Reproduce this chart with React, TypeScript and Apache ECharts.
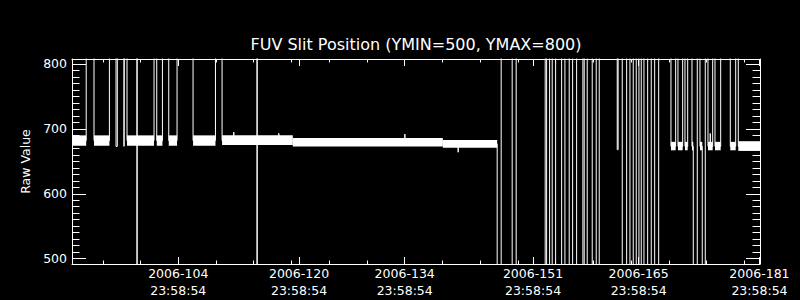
import React, { useEffect, useRef } from "react";
import * as echarts from "echarts";

// ---- data (x = day-of-year 2006, fractional; y = raw value) ----
const TITLE = "FUV Slit Position (YMIN=500, YMAX=800)";
const Y_NAME = "Raw Value";

// labelled time ticks: day of year at 23:58:54
const tickDays = [104, 120, 134, 151, 165, 181];
const tickTime = "23:58:54";
const tickFraction = 86334 / 86400;
const minorTickDays = [95, 100, 105, 110, 115, 120, 125, 130, 135, 140, 145, 150, 155, 160, 165, 170, 175, 180];
const yMajorTicks = [500, 600, 700, 800];

const X_MIN = 90.923;
const X_MAX = 182.071;
const Y_MIN = 491.75;
const Y_MAX = 807.7;

// trace as a step function: level held from each day until the next one
// (1023 = off the top of the scale, 0 = off the bottom)
const traceDay = [
  90.923, 92.805, 93.839, 95.88, 96.755, 96.927, 97.815, 97.868, 98.213, 99.538,
  99.541, 99.544, 101.792, 102.149, 102.905, 103.74, 104.84, 106.961, 109.929, 110.804,
  112.355, 112.362, 115.443, 115.446, 115.449, 118.319, 118.326, 135.019, 135.026, 142.084,
  142.091, 147.252, 147.782, 149.24, 149.77, 153.614, 153.8, 154.197, 154.542, 154.993,
  155.788, 156.225, 156.795, 157.246, 157.776, 158.611, 158.783, 159.181, 159.844, 160.374,
  160.771, 163.157, 163.276, 163.82, 164.403, 164.841, 165.278, 165.676, 166.034, 166.338,
  166.696, 167.187, 167.664, 168.115, 168.645, 170.275, 170.898, 171.203, 171.826, 172.131,
  172.489, 173.059, 173.231, 173.761, 174.119, 174.424, 174.821, 175.179, 175.484, 175.491,
  175.802, 176.107, 176.862, 178.135, 178.851, 179.195, 182.071,
];
const traceLevel = [
  682, 1023, 682, 1023, 673, 1023, 673, 1023, 682, 1023,
  0, 682, 1023, 682, 1023, 682, 1023, 682, 1023, 682,
  695, 682, 1023, 0, 682, 693, 682, 692, 680, 664,
  677, 0, 1023, 0, 1023, 0, 1023, 0, 1023, 0,
  1023, 0, 1023, 0, 1023, 0, 1023, 0, 1023, 0,
  1023, 668, 1023, 0, 1023, 0, 1023, 0, 1023, 0,
  1023, 0, 1023, 0, 1023, 673, 1023, 673, 1023, 673,
  1023, 673, 0, 1023, 673, 0, 1023, 673, 693, 673,
  1023, 673, 1023, 673, 1023, 673, 673,
];

// noise envelope of the sampled trace while it sits near its nominal value
const bandStart = [
  90.923, 93.839, 98.213, 102.149, 103.74, 106.961, 110.804, 120.175, 140.056,
  170.275, 171.203, 172.131, 173.059, 174.119, 175.179, 176.107, 178.135, 179.195,
];
const bandEnd = [
  92.805, 95.88, 101.792, 102.905, 104.84, 109.929, 120.175, 140.056, 147.252,
  170.898, 171.826, 172.489, 173.231, 174.424, 175.802, 176.862, 178.851, 182.071,
];
const bandLow = [674, 674, 674, 674, 674, 674, 675, 673, 671, 667, 667, 667, 667, 667, 667, 667, 667, 666];
const bandHigh = [690, 690, 690, 690, 690, 690, 690, 686, 683, 680, 680, 680, 680, 680, 680, 680, 680, 681];

const FONT = "DejaVu Sans";
const WHITE = "#ffffff";

export default function App() {
  const ref = useRef<HTMLDivElement>(null);

  useEffect(() => {
    if (!ref.current) return;
    const chart = echarts.init(ref.current, null, { renderer: "svg" });

    const majorX = tickDays.map((d) => d + tickFraction);
    const xLabels = tickDays.map((d) => `2006-${d}\n${tickTime}`);
    const minorY: number[] = [];
    for (let v = 500; v <= 800; v += 10) minorY.push(v);

    const line = { color: WHITE, width: 1 };
    const baseX = (position: "top" | "bottom", major: boolean, labels: boolean) => ({
      type: "value" as const,
      position,
      min: X_MIN,
      max: X_MAX,
      offset: 0,
      axisLine: { show: major, lineStyle: line },
      axisTick: {
        show: true,
        inside: true,
        length: major ? 7 : 3.5,
        customValues: major ? majorX : minorTickDays,
        lineStyle: line,
      },
      axisLabel: labels
        ? {
            show: true,
            customValues: majorX,
            formatter: (v: number) => {
              const i = majorX.findIndex((m) => Math.abs(m - v) < 1e-3);
              return i >= 0 ? xLabels[i] : "";
            },
            color: WHITE,
            fontFamily: FONT,
            fontSize: 12.5,
            lineHeight: 17,
            margin: 1,
          }
        : { show: false },
      splitLine: { show: false },
    });
    const baseY = (position: "left" | "right", major: boolean, labels: boolean) => ({
      type: "value" as const,
      position,
      min: Y_MIN,
      max: Y_MAX,
      offset: 0,
      name: labels ? Y_NAME : "",
      nameLocation: "middle" as const,
      nameGap: 40,
      nameTextStyle: { color: WHITE, fontFamily: FONT, fontSize: 12.5 },
      axisLine: { show: major, lineStyle: line },
      axisTick: {
        show: true,
        inside: true,
        length: major ? 14 : 7.5,
        customValues: major ? yMajorTicks : minorY,
        lineStyle: line,
      },
      axisLabel: labels
        ? {
            show: true,
            customValues: yMajorTicks,
            color: WHITE,
            fontFamily: FONT,
            fontSize: 12.5,
            margin: 5,
          }
        : { show: false },
      splitLine: { show: false },
    });

    chart.setOption({
      animation: false,
      backgroundColor: "#000000",
      title: {
        text: TITLE,
        left: 416,
        top: 36,
        textAlign: "center",
        padding: 0,
        textStyle: { color: WHITE, fontFamily: FONT, fontSize: 16, fontWeight: "normal" },
      },
      grid: { left: 72, right: 40, top: 59, bottom: 36, containLabel: false },
      xAxis: [
        baseX("bottom", true, true),
        baseX("bottom", false, false),
        baseX("top", true, false),
        baseX("top", false, false),
      ],
      yAxis: [
        baseY("left", true, true),
        baseY("left", false, false),
        baseY("right", true, false),
        baseY("right", false, false),
      ],
      series: [
        {
          type: "custom",
          xAxisIndex: 0,
          yAxisIndex: 0,
          clip: true,
          encode: { x: [0, 1], y: [2, 3] },
          data: bandStart.map((s, i) => [s, bandEnd[i], bandLow[i], bandHigh[i]]),
          renderItem: (_params: any, api: any) => {
            const p0 = api.coord([api.value(0), api.value(3)]);
            const p1 = api.coord([api.value(1), api.value(2)]);
            return {
              type: "rect",
              shape: {
                x: p0[0],
                y: p0[1],
                width: Math.max(1, p1[0] - p0[0]),
                height: p1[1] - p0[1],
              },
              style: { fill: WHITE },
            };
          },
        },
        {
          type: "line",
          xAxisIndex: 0,
          yAxisIndex: 0,
          step: "end",
          symbol: "none",
          clip: true,
          lineStyle: { color: WHITE, width: 1 },
          data: traceDay.map((d, i) => [d, traceLevel[i]]),
        },
      ],
    });

    return () => chart.dispose();
  }, []);

  return (
    <div
      ref={ref}
      style={{ position: "fixed", left: 0, top: 0, width: 800, height: 300, background: "#000" }}
    />
  );
}
